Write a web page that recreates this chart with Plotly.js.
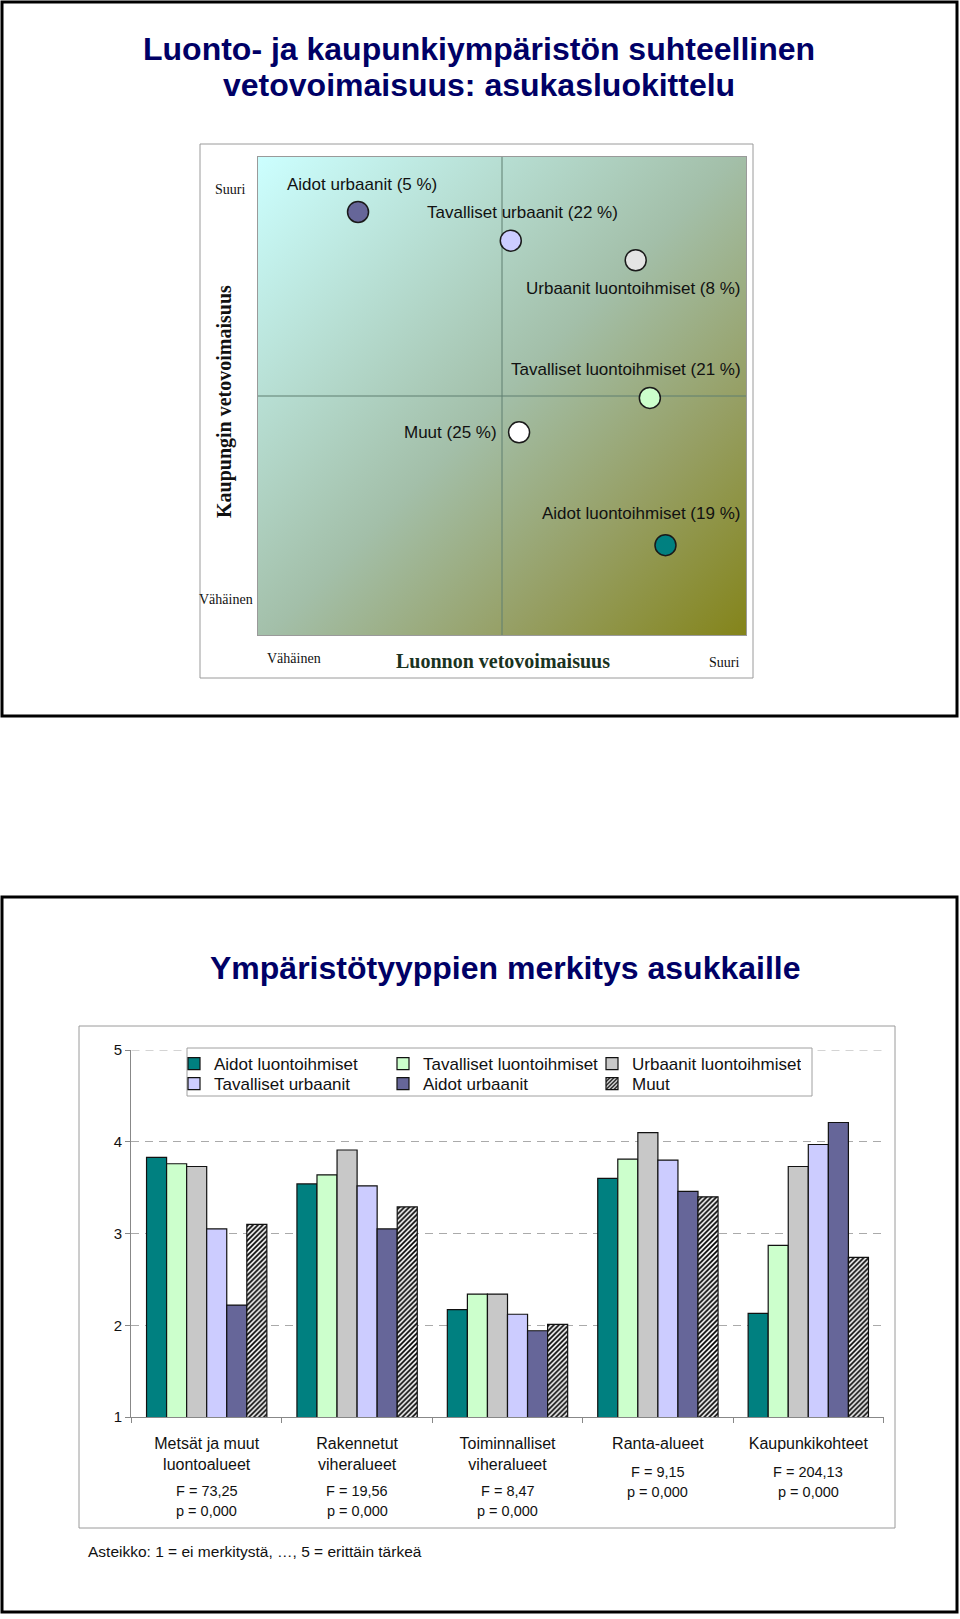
<!DOCTYPE html>
<html><head><meta charset="utf-8">
<script src="https://cdn.plot.ly/plotly-3.0.1.min.js"></script>
<style>html,body{margin:0;padding:0;background:#fff;} #chart{width:960px;height:1619px;}</style>
</head><body><div id="chart"></div>
<script>
// ---------- Data: segmentation scatter ----------
const groupLabels = ["Aidot urbaanit (5 %)", "Tavalliset urbaanit (22 %)", "Urbaanit luontoihmiset (8 %)",
                     "Tavalliset luontoihmiset (21 %)", "Muut (25 %)", "Aidot luontoihmiset (19 %)"];
const natureAttraction = [2.05, 5.18, 7.74, 8.03, 5.35, 8.35];
const cityAttraction   = [8.85, 8.25, 7.84, 4.96, 4.24, 1.88];
const groupColors = ["#666699", "#ccccff", "#e4e4e4", "#ccffcc", "#ffffff", "#008080"];

// ---------- Data: bar chart ----------
const categories = ["Metsät ja muut<br>luontoalueet", "Rakennetut<br>viheralueet", "Toiminnalliset<br>viheralueet",
                    "Ranta-alueet", "Kaupunkikohteet"];
const fValues = ["F = 73,25", "F = 19,56", "F = 8,47", "F = 9,15", "F = 204,13"];
const pValues = ["p = 0,000", "p = 0,000", "p = 0,000", "p = 0,000", "p = 0,000"];
const seriesNames = ["Aidot luontoihmiset", "Tavalliset luontoihmiset", "Urbaanit luontoihmiset",
                     "Tavalliset urbaanit", "Aidot urbaanit", "Muut"];
const aidotLuontoihmiset      = [3.83, 3.54, 2.17, 3.60, 2.13];
const tavallisetLuontoihmiset = [3.76, 3.64, 2.34, 3.81, 2.87];
const urbaanitLuontoihmiset   = [3.73, 3.91, 2.34, 4.10, 3.73];
const tavallisetUrbaanit      = [3.05, 3.52, 2.12, 3.80, 3.97];
const aidotUrbaanit           = [2.22, 3.05, 1.94, 3.46, 4.21];
const muut                    = [3.10, 3.29, 2.01, 3.40, 2.74];
const seriesValues = [aidotLuontoihmiset, tavallisetLuontoihmiset, urbaanitLuontoihmiset,
                      tavallisetUrbaanit, aidotUrbaanit, muut];
const yTicks = [1, 2, 3, 4, 5];

// ---------- Styling ----------
const W = 960, H = 1619;
const X = px => px / W;
const Y = py => 1 - py / H;
const SANS = "Liberation Sans, Arial, sans-serif";
const SERIF = "Liberation Serif, Times New Roman, serif";
const NAVY = "#000066";
const barColors = ["#008080", "#ccffcc", "#c8c8c8", "#ccccff", "#666699", "#ffffff"];
const legendRow = ["legend", "legend", "legend", "legend2", "legend2", "legend2"];
// label placement relative to each marker: [xshift, yshift, xanchor]
const labelPlacement = [[4, 27, "center"], [12, 28, "center"], [-3, -28, "center"],
                        [-24, 28, "center"], [-20, 0, "right"], [-24, 32, "center"]];
// scatter plot-area box in page pixels
const PA = { x0: 258, x1: 746, y0: 157, y1: 635 };

// gradient background for the scatter plot area
function gradientURL() {
  const c = document.createElement("canvas");
  c.width = PA.x1 - PA.x0; c.height = PA.y1 - PA.y0;
  const g = c.getContext("2d");
  const lg = g.createLinearGradient(0, 0, c.width, c.height);
  lg.addColorStop(0, "#ccffff");
  lg.addColorStop(0.5, "#a3bfa9");
  lg.addColorStop(0.75, "#969f64");
  lg.addColorStop(1, "#84841a");
  g.fillStyle = lg;
  g.fillRect(0, 0, c.width, c.height);
  return c.toDataURL("image/png");
}

const traces = [];
traces.push({
  type: "scatter", mode: "markers", xaxis: "x", yaxis: "y",
  x: natureAttraction, y: cityAttraction, text: groupLabels, hoverinfo: "text",
  showlegend: false,
  marker: { size: 21, color: groupColors, line: { color: "#1a1a1a", width: 1.5 } }
});
seriesNames.forEach((name, i) => {
  const t = {
    type: "bar", name: name, xaxis: "x2", yaxis: "y2", legend: legendRow[i],
    x: categories, y: seriesValues[i],
    marker: { color: barColors[i], line: { color: "#111", width: 1.2 } }
  };
  if (name === "Muut") {
    t.marker.pattern = { shape: "/", fgcolor: "#000000", bgcolor: "#ffffff", size: 3.5, solidity: 0.5 };
  }
  traces.push(t);
});

const annotations = [];
function txt(text, px, py, size, opts) {
  annotations.push(Object.assign({
    text: text, x: X(px), y: Y(py), xref: "paper", yref: "paper", showarrow: false,
    xanchor: "center", yanchor: "middle", font: { family: SANS, size: size, color: "#111" }
  }, opts || {}));
}
// titles
const titleFont = { family: SANS, size: 32, color: NAVY };
txt("<b>Luonto- ja kaupunkiympäristön suhteellinen</b>", 479, 49, 32, { font: titleFont });
txt("<b>vetovoimaisuus: asukasluokittelu</b>", 479, 85, 32, { font: titleFont });
txt("<b>Ympäristötyyppien merkitys asukkaille</b>", 505, 968, 32, { font: titleFont });
// scatter axis texts
const smallSerif = { family: SERIF, size: 14, color: "#111" };
txt("Suuri", 230, 190, 14, { font: smallSerif });
txt("Vähäinen", 226, 599, 14, { font: smallSerif });
txt("<b>Kaupungin vetovoimaisuus</b>", 225, 402, 20, { textangle: -90, font: { family: SERIF, size: 20, color: "#111" } });
txt("Vähäinen", 294, 658, 14, { font: smallSerif });
txt("<b>Luonnon vetovoimaisuus</b>", 503, 661, 20, { font: { family: SERIF, size: 20, color: "#1a331f" } });
txt("Suuri", 724, 662, 14, { font: smallSerif });
// scatter point labels
groupLabels.forEach((lab, i) => {
  const p = labelPlacement[i];
  annotations.push({
    text: lab, x: natureAttraction[i], y: cityAttraction[i], xref: "x", yref: "y", showarrow: false,
    xanchor: p[2], yanchor: "middle", xshift: p[0], yshift: p[1],
    font: { family: SANS, size: 17, color: "#111" }
  });
});
// F / p statistics under each category
categories.forEach((cat, i) => {
  const nLines = cat.split("<br>").length;
  const fy = nLines > 1 ? 1491 : 1472;
  annotations.push({ text: fValues[i], x: cat, xref: "x2", y: Y(fy), yref: "paper", showarrow: false,
    xanchor: "center", yanchor: "middle", font: { family: SANS, size: 14.5, color: "#111" } });
  annotations.push({ text: pValues[i], x: cat, xref: "x2", y: Y(fy + 20), yref: "paper", showarrow: false,
    xanchor: "center", yanchor: "middle", font: { family: SANS, size: 14.5, color: "#111" } });
});
txt("Asteikko: 1 = ei merkitystä, …, 5 = erittäin tärkeä", 86, 1551, 15.5, { xanchor: "left" });

const rectP = (x0, y0, x1, y1, line, fill, layer) => ({
  type: "rect", xref: "paper", yref: "paper", x0: X(x0), x1: X(x1), y0: Y(y0), y1: Y(y1),
  line: line, fillcolor: fill || "rgba(0,0,0,0)", layer: layer || "above"
});
const shapes = [
  rectP(2, 2, 957, 716, { color: "#000", width: 3 }),
  rectP(2, 897, 957, 1612, { color: "#000", width: 3 }),
  rectP(200, 144, 753, 678, { color: "#9a9a9a", width: 1 }, null, "below"),
  rectP(79, 1026, 895, 1528, { color: "#9a9a9a", width: 1 }, null, "below"),
  // top gridline of the bar chart (value 5)
  { type: "line", xref: "x2", yref: "y2", x0: -0.5, x1: categories.length - 0.5,
    y0: yTicks[yTicks.length - 1], y1: yTicks[yTicks.length - 1],
    line: { color: "#aaaaaa", width: 1, dash: "8px,6px" }, layer: "below" },
  rectP(187, 1048, 812, 1096, { color: "#a0a0a0", width: 1 }, "#ffffff", "above"),
  // quadrant crosshair at the middle of both scatter axes
  { type: "line", xref: "x", yref: "y", x0: 5, x1: 5, y0: 0, y1: 10, line: { color: "#5e7e70", width: 1 }, layer: "below" },
  { type: "line", xref: "x", yref: "y", x0: 0, x1: 10, y0: 5, y1: 5, line: { color: "#5e7e70", width: 1 }, layer: "below" }
];

const legendBase = { orientation: "h", xanchor: "left", yanchor: "top", bgcolor: "rgba(0,0,0,0)",
                     borderwidth: 0, entrywidth: 164, traceorder: "normal",
                     font: { family: SANS, size: 17, color: "#111" } };

const layout = {
  width: W, height: H, margin: { l: 0, r: 0, t: 0, b: 0 },
  paper_bgcolor: "#ffffff", plot_bgcolor: "rgba(0,0,0,0)",
  font: { family: SANS, color: "#111" },
  xaxis: { domain: [X(PA.x0), X(PA.x1)], range: [0, 10], anchor: "y", showgrid: false, zeroline: false,
           showticklabels: false, ticks: "", showline: true, mirror: true, linecolor: "#9a9a9a", fixedrange: true },
  yaxis: { domain: [Y(PA.y1), Y(PA.y0)], range: [0, 10], anchor: "x", showgrid: false, zeroline: false,
           showticklabels: false, ticks: "", showline: true, mirror: true, linecolor: "#9a9a9a", fixedrange: true },
  xaxis2: { domain: [X(131), X(884)], anchor: "y2", type: "category", tickson: "boundaries",
            ticks: "outside", ticklen: 5, tickcolor: "#888", showline: true, linecolor: "#888",
            showgrid: false, ticklabelstandoff: 12, tickfont: { family: SANS, size: 16, color: "#111" } },
  yaxis2: { domain: [Y(1417), Y(1050)], anchor: "x2", range: [1, 5], tickvals: yTicks,
            ticks: "outside", ticklen: 5, tickcolor: "#888", showline: true, linecolor: "#888",
            showgrid: true, gridcolor: "#aaaaaa", griddash: "8px,6px", zeroline: false,
            tickfont: { family: SANS, size: 15, color: "#111" } },
  barmode: "group", bargap: 0.2, bargroupgap: 0,
  showlegend: true,
  legend: Object.assign({}, legendBase, { x: X(174), y: Y(1046) }),
  legend2: Object.assign({}, legendBase, { x: X(174), y: Y(1066) }),
  images: [{ source: gradientURL(), xref: "paper", yref: "paper", x: X(PA.x0), y: Y(PA.y0),
             sizex: X(PA.x1) - X(PA.x0), sizey: Y(PA.y0) - Y(PA.y1),
             sizing: "stretch", layer: "below", xanchor: "left", yanchor: "top" }],
  shapes: shapes,
  annotations: annotations
};

Plotly.newPlot("chart", traces, layout, { staticPlot: true, displayModeBar: false });
</script>
</body></html>
